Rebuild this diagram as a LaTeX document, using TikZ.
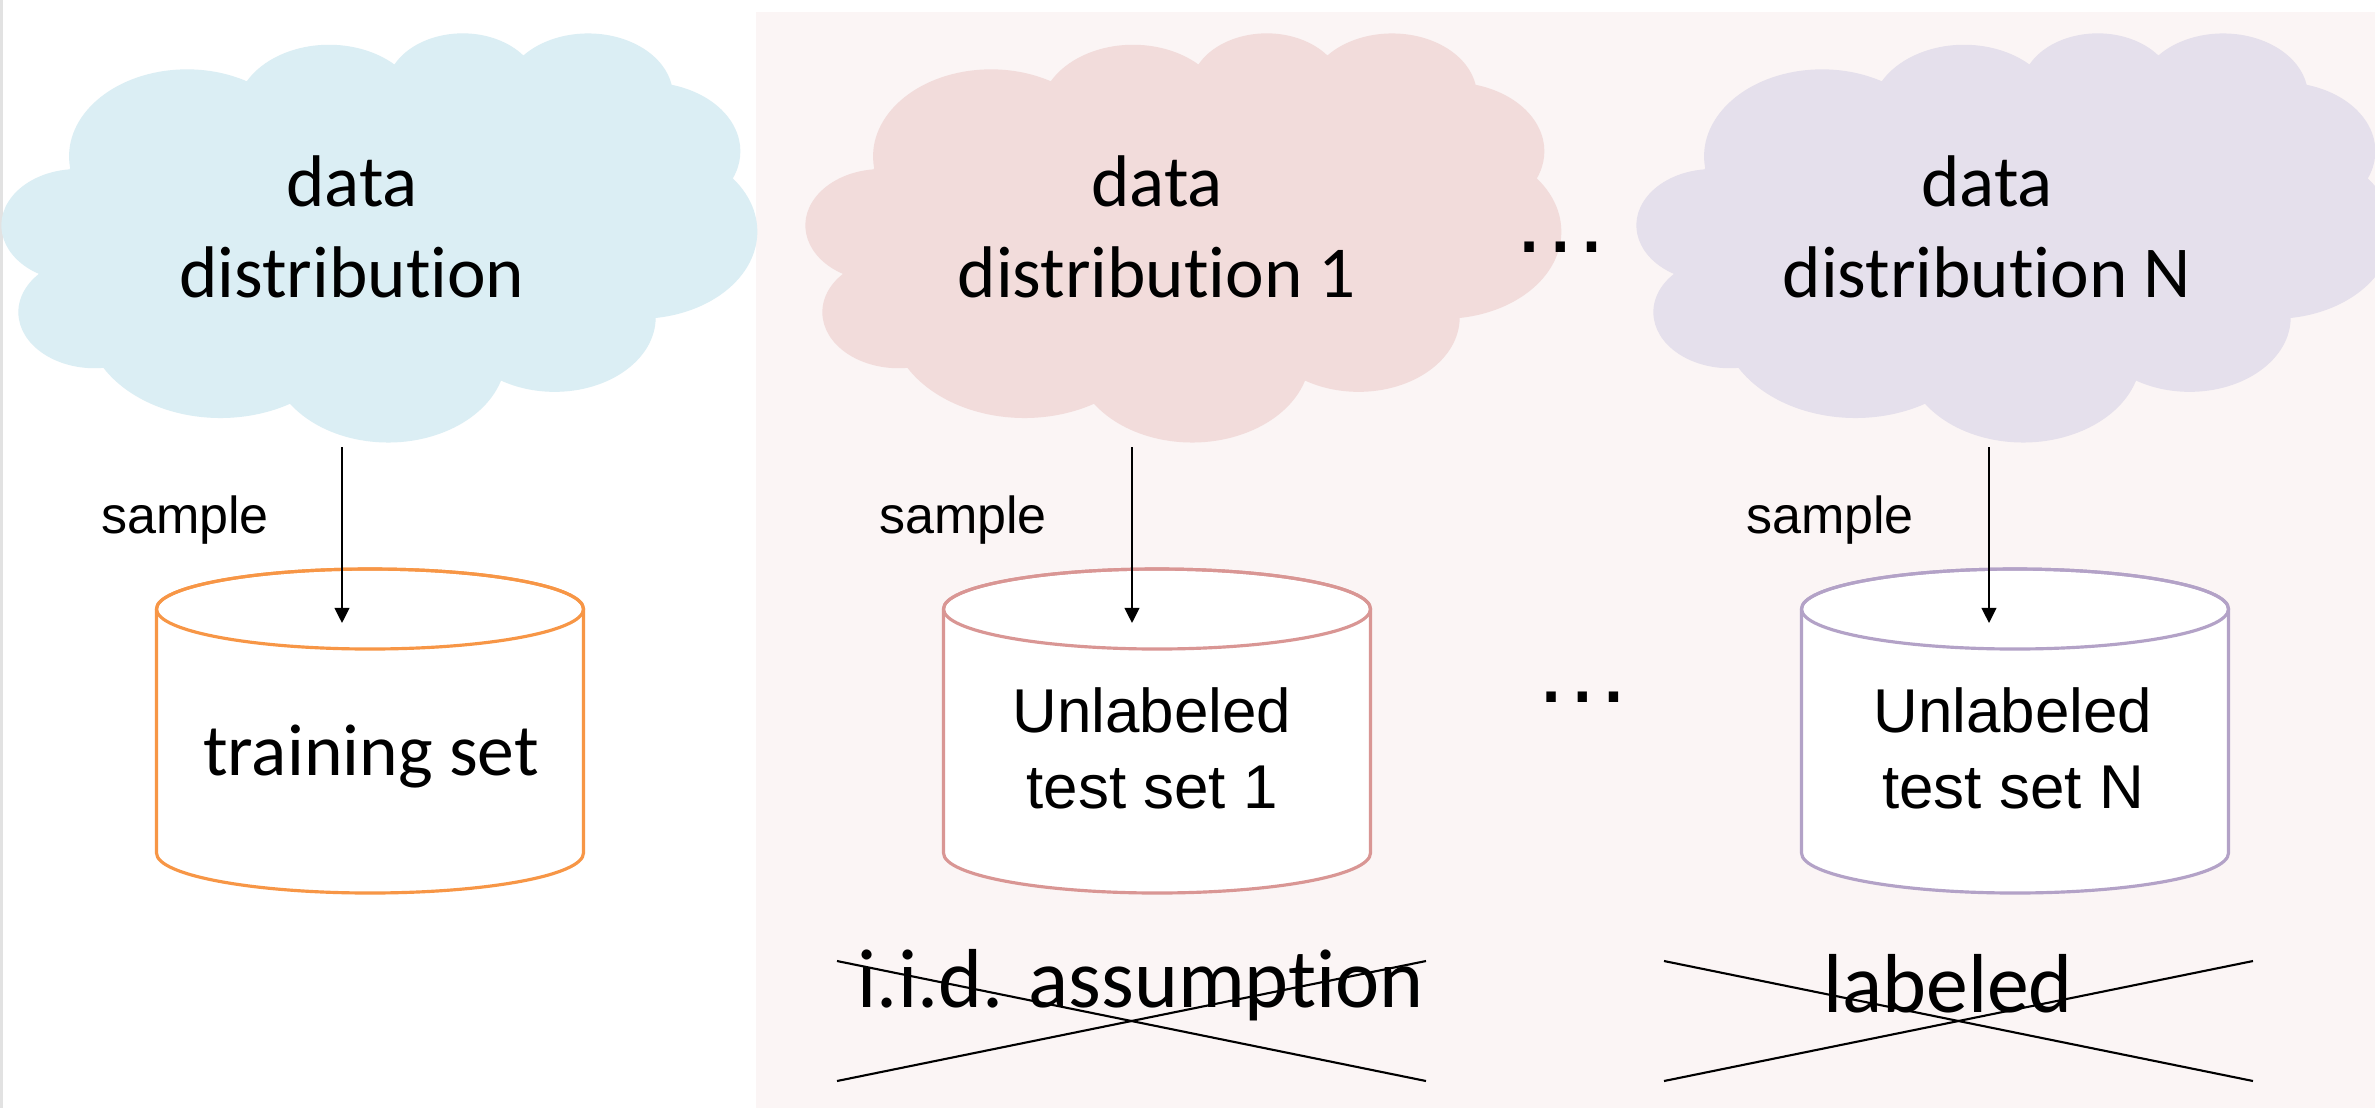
\documentclass[tikz,border=0pt]{standalone}
\usepackage{fontspec}
\setmainfont{Carlito}[Ligatures=CommonOff]
\newfontfamily\arialf{Liberation Sans}
\usetikzlibrary{arrows.meta}
\definecolor{cloudA}{HTML}{DBEEF4}
\definecolor{cloudB}{HTML}{F2DCDB}
\definecolor{cloudC}{HTML}{E5E0EC}
\definecolor{cylA}{HTML}{F79646}
\definecolor{cylB}{HTML}{D99694}
\definecolor{cylC}{HTML}{B3A2C7}
\definecolor{panelbg}{HTML}{FBF5F5}
\definecolor{edgegray}{HTML}{E2E2E2}
\tikzset{
  cloudpath/.style={insert path={(39.00,143.70)
    arc[x radius=67.53,y radius=91.90,start angle=-187.746,end angle=-59.634]
    arc[x radius=53.33,y radius=72.67,start angle=-152.023,end angle=-45.456]
    arc[x radius=43.65,y radius=59.45,start angle=-153.489,end angle=-37.330]
    arc[x radius=48.57,y radius=65.95,start angle=-139.713,end angle=-10.211]
    arc[x radius=53.33,y radius=72.73,start angle=-74.769,end angle=23.209]
    arc[x radius=67.75,y radius=92.20,start angle=-37.529,end angle=81.862]
    arc[x radius=57.85,y radius=78.67,start angle=0.460,end angle=121.981]
    arc[x radius=67.52,y radius=92.15,start angle=16.845,end angle=146.239]
    arc[x radius=77.20,y radius=105.43,start angle=58.986,end angle=150.185]
    arc[x radius=43.60,y radius=59.18,start angle=-276.694,end angle=-136.894]
    arc[x radius=43.45,y radius=59.45,start angle=-239.644,end angle=-95.887]
    -- cycle}},
  cloudtext/.style={font=\fontsize{20.8}{25.6}\selectfont, align=center, inner sep=0pt, anchor=base},
  settext/.style={font=\fontsize{20.9}{25.6}\selectfont, inner sep=0pt, anchor=base},
  unltext/.style={font=\arialf\fontsize{17.6}{21.6}\selectfont, align=center, inner sep=0pt, anchor=base},
  samplelbl/.style={font=\arialf\fontsize{14.8}{18}\selectfont, inner sep=0pt, anchor=base},
  striketext/.style={font=\fontsize{23.8}{28}\selectfont, inner sep=0pt, anchor=base},
  dotstext/.style={font=\arialf\fontsize{28}{30}\selectfont, inner sep=0pt, anchor=base},
  samplearrow/.style={line width=0.57pt, -{Triangle[length=4.3pt,width=4.2pt]}},
  crossline/.style={line width=0.6pt},
  cylline/.style={line width=0.9pt, fill=white},
}
\begin{document}
\begin{tikzpicture}[x=0.01cm, y=-0.01cm]
\useasboundingbox (0,0) rectangle (2375,1108);
\fill[white] (0,0) rectangle (2375,1108);
\fill[edgegray] (0,0) rectangle (3,1108);
% panel
\fill[panelbg] (756,12) rectangle (2375,1108);
% clouds
\begin{scope}[shift={(2,32)}, xscale=1.7477, yscale=0.9468]
  \fill[cloudA, cloudpath];
\end{scope}
\begin{scope}[shift={(806,32)}, xscale=1.7477, yscale=0.9468]
  \fill[cloudB, cloudpath];
\end{scope}
\begin{scope}[shift={(1637,32)}, xscale=1.7477, yscale=0.9468]
  \fill[cloudC, cloudpath];
\end{scope}
\node[cloudtext] (c1) at (352,297) {data\\distribution};
\node[cloudtext] (c2) at (1157,297) {data\\distribution 1};
\node[cloudtext] (c3) at (1987,297) {data\\distribution N};
% cylinders
\draw[cylline, draw=cylA] (156.5,609) -- (156.5,853) arc[start angle=180,end angle=0,x radius=213.5,y radius=40] -- (583.5,609) arc[start angle=0,end angle=-180,x radius=213.5,y radius=40] -- cycle;
\draw[line width=0.9pt, draw=cylA] (370,609) ellipse[x radius=213.5,y radius=40];
\draw[cylline, draw=cylB] (943.5,609) -- (943.5,853) arc[start angle=180,end angle=0,x radius=213.5,y radius=40] -- (1370.5,609) arc[start angle=0,end angle=-180,x radius=213.5,y radius=40] -- cycle;
\draw[line width=0.9pt, draw=cylB] (1157,609) ellipse[x radius=213.5,y radius=40];
\draw[cylline, draw=cylC] (1801.5,609) -- (1801.5,853) arc[start angle=180,end angle=0,x radius=213.5,y radius=40] -- (2228.5,609) arc[start angle=0,end angle=-180,x radius=213.5,y radius=40] -- cycle;
\draw[line width=0.9pt, draw=cylC] (2015,609) ellipse[x radius=213.5,y radius=40];
\node[settext] (t1) at (371,775) {training set};
\node[unltext] (t2) at (1152,808) {Unlabeled\\test set 1};
\node[unltext] (t3) at (2013,808) {Unlabeled\\test set N};
% sample arrows
\coordinate (a1) at (342,447);
\coordinate (b1) at (342,623);
\coordinate (a2) at (1132,447);
\coordinate (b2) at (1132,623);
\coordinate (a3) at (1989,447);
\coordinate (b3) at (1989,623);
\draw[samplearrow] (a1) -- (b1);
\draw[samplearrow] (a2) -- (b2);
\draw[samplearrow] (a3) -- (b3);
\node[samplelbl] (l1) at (185,533) {sample};
\node[samplelbl] (l2) at (963,533) {sample};
\node[samplelbl] (l3) at (1830,533) {sample};
% dots
\node[dotstext] (d1) at (1561,252) {…};
\node[dotstext] (d2) at (1583,702) {…};
% struck-out texts
\node[striketext] (x1) at (1141,1007) {i.i.d. assumption};
\node[striketext] (x2) at (1948,1012) {labeled};
\coordinate (p1) at (837,961);
\coordinate (p2) at (1426,1081);
\coordinate (p3) at (837,1081);
\coordinate (p4) at (1426,961);
\coordinate (q1) at (1664,961);
\coordinate (q2) at (2253,1081);
\coordinate (q3) at (1664,1081);
\coordinate (q4) at (2253,961);
\draw[crossline] (p1) -- (p2);
\draw[crossline] (p3) -- (p4);
\draw[crossline] (q1) -- (q2);
\draw[crossline] (q3) -- (q4);
\end{tikzpicture}
\end{document}
